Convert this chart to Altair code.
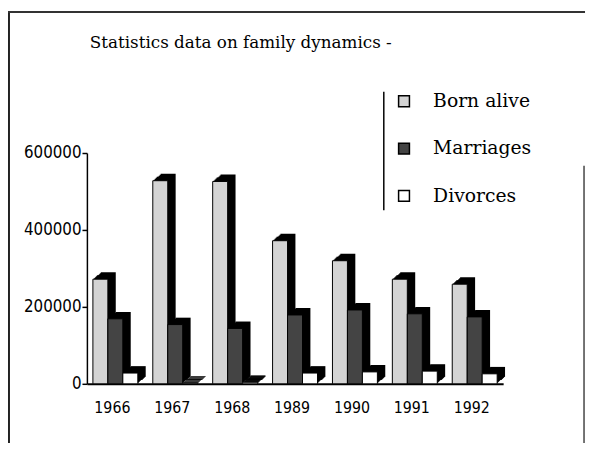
import altair as alt
import pandas as pd

# ---- data ----
years = ["1966", "1967", "1968", "1989", "1990", "1991", "1992"]
series = ["Born alive", "Marriages", "Divorces"]
born = [272000, 528000, 526000, 372000, 320000, 272000, 259000]
marriages = [169000, 154000, 144000, 179000, 192000, 182000, 174000]
divorces = [28000, 2000, 4000, 28000, 31000, 33000, 26000]
y_ticks = [0, 200000, 400000, 600000]
colors = ["#d4d4d4", "#444444", "#ffffff"]
title_text = "Statistics data on family dynamics -"

rows = []
for i, yr in enumerate(years):
    for s, vals in zip(series, [born, marriages, divorces]):
        rows.append({"year": yr, "series": s, "value": vals[i]})
df = pd.DataFrame(rows)

W, H = 422, 234
PI, PO = 0.25, 0.1
step = W / (len(years) - PI + 2 * PO)
bw = step * (1 - PI)

xenc = alt.X(
    "year:N", sort=years,
    scale=alt.Scale(paddingInner=PI, paddingOuter=PO),
    axis=alt.Axis(title=None, labelAngle=0, ticks=False, domainColor="black",
                  domainWidth=2, labelFont="DejaVu Sans Condensed, DejaVu Sans",
                  labelFontSize=16, labelColor="black", labelPadding=16,
                  labelOffset=-3),
)
yenc = alt.Y(
    "value:Q",
    scale=alt.Scale(domain=[0, 600000], nice=False),
    axis=alt.Axis(title=None, values=y_ticks, format="d", grid=False,
                  domainColor="black", domainWidth=1.5, tickColor="black",
                  tickSize=5, tickWidth=1.5, labelPadding=1,
                  labelFont="DejaVu Sans Condensed, DejaVu Sans",
                  labelFontSize=17, labelColor="black"),
)

# extruded (3-D) black depth behind each bar
layers = []
for dx in range(1, 9):
    dy = -round(dx * 7 / 8)
    layers.append(
        alt.Chart(df).mark_bar(color="black", yOffset=dy).encode(
            x=xenc, y=yenc,
            xOffset=alt.XOffset("series:N", sort=series,
                                scale=alt.Scale(range=[dx, dx + bw])),
        )
    )

front = alt.Chart(df).mark_bar(stroke="black", strokeWidth=1).encode(
    x=xenc, y=yenc,
    xOffset=alt.XOffset("series:N", sort=series, scale=alt.Scale(range=[0, bw])),
    fill=alt.Fill("series:N", sort=series,
                  scale=alt.Scale(domain=series, range=colors),
                  legend=alt.Legend(title=None, orient="none", legendX=312,
                                    legendY=-62, symbolType="square",
                                    symbolSize=121, symbolStrokeColor="black",
                                    symbolStrokeWidth=1.5, symbolOpacity=1,
                                    labelFont="DejaVu Serif", labelFontSize=19,
                                    labelColor="black", labelOffset=20,
                                    rowPadding=28, padding=0)),
)
layers.append(front)

one = alt.Data(values=[{"k": 0}])
deco = [
    alt.Chart(one).mark_rule(color="#222222", strokeWidth=2).encode(
        x=alt.value(-79), y=alt.value(-143), y2=alt.value(H + 60)),
    alt.Chart(one).mark_rule(color="#333333", strokeWidth=2).encode(
        x=alt.value(-80), x2=alt.value(505), y=alt.value(-143)),
    alt.Chart(one).mark_rule(color="#444444", strokeWidth=1.5).encode(
        x=alt.value(504), y=alt.value(13), y2=alt.value(H + 60)),
    alt.Chart(one).mark_rule(color="black", strokeWidth=1.5).encode(
        x=alt.value(301), y=alt.value(-62), y2=alt.value(58)),
    alt.Chart(one).mark_text(text=title_text, font="DejaVu Serif", fontSize=17,
                             color="black", align="center",
                             baseline="alphabetic").encode(
        x=alt.value(156), y=alt.value(-106)),
]

chart = alt.layer(*layers, *deco).resolve_scale(xOffset="independent").properties(
    width=W, height=H,
    autosize=alt.AutoSizeParams(type="none"),
    padding={"left": 80, "top": 144, "right": 84, "bottom": 58},
    background="white",
).configure_view(stroke=None)

chart.save("out.html", embed_options={"renderer": "svg", "actions": False})
